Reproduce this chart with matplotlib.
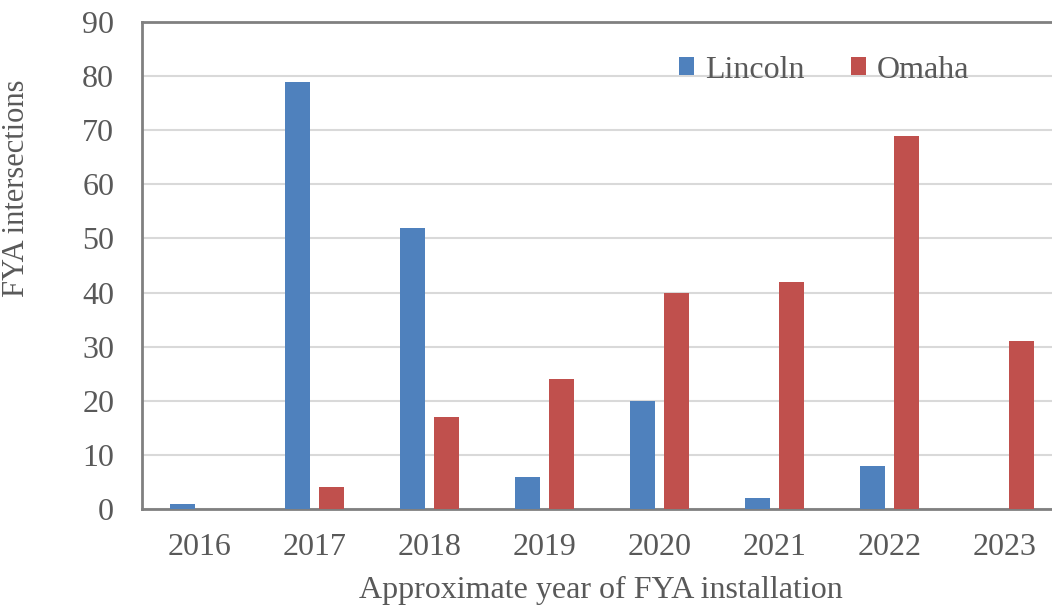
import matplotlib.pyplot as plt
import numpy as np

# data
years = ["2016", "2017", "2018", "2019", "2020", "2021", "2022", "2023"]
lincoln = [1, 79, 52, 6, 20, 2, 8, 0]
omaha = [0, 4, 17, 24, 40, 42, 69, 31]
yticks = [0, 10, 20, 30, 40, 50, 60, 70, 80, 90]

plt.rcParams["font.family"] = ["Liberation Serif", "DejaVu Serif"]
TXT = "#595959"

fig = plt.figure(figsize=(10.52, 6.09), dpi=100)
ax = fig.add_axes([142 / 1052, 1 - 509 / 609, 920 / 1052, 487 / 609])

x = np.arange(len(years))
w = 0.22
off = 0.145
ax.bar(x - off, lincoln, w, color="#4F81BD", label="Lincoln", zorder=3)
ax.bar(x + off, omaha, w, color="#C0504D", label="Omaha", zorder=3)

ax.set_xlim(-0.5, 7.5)
ax.set_ylim(0, 90)
ax.set_yticks(yticks)
ax.set_xticks(x)
ax.set_xticklabels(years)
ax.tick_params(axis="both", length=0, labelsize=23, colors=TXT)
ax.tick_params(axis="y", pad=20)
ax.tick_params(axis="x", pad=17)
ax.grid(axis="y", color="#D9D9D9", linewidth=1.5, zorder=0)

for s in ["left", "bottom", "top"]:
    ax.spines[s].set_color("#808080")
    ax.spines[s].set_linewidth(2)
ax.spines["right"].set_visible(False)

fig.text(601 / 1052, 1 - 590 / 609, "Approximate year of FYA installation",
         ha="center", va="center", fontsize=23, color=TXT)
fig.text(17 / 1052, 1 - 188 / 609, "FYA intersections", rotation=90,
         ha="center", va="center", fontsize=22, color=TXT)

leg = fig.legend(loc="center", bbox_to_anchor=(824 / 1052, 1 - 70 / 609), ncol=2,
                 frameon=False, fontsize=23, handlelength=0.48, handleheight=0.48,
                 columnspacing=1.45, handletextpad=0.33)
for t in leg.get_texts():
    t.set_color(TXT)

fig.savefig("out.png", dpi=100)
